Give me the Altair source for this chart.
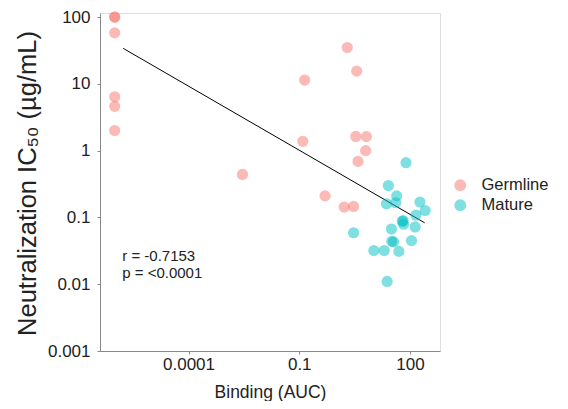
import altair as alt
import pandas as pd

germ_x = [1e-6, 1e-6, 1e-6, 1e-6, 1e-6, 1e-6, 0.0029, 2.0, 3.6, 0.14, 0.125, 3.4, 6.6, 6.3, 3.9, 0.5, 1.65, 2.96]
germ_y = [100, 100, 58, 6.4, 4.6, 2.0, 0.44, 35, 15.5, 11.4, 1.38, 1.63, 1.62, 1.0, 0.69, 0.21, 0.143, 0.146]

mat_x = [78, 26, 43.6, 23, 41, 186, 257, 144, 62, 65, 67, 138, 31.5, 2.96, 32, 36, 110, 10.5, 20, 50, 24]
mat_y = [0.66, 0.30, 0.21, 0.16, 0.166, 0.17, 0.127, 0.108, 0.087, 0.09, 0.079, 0.072, 0.067, 0.059, 0.044, 0.043, 0.045, 0.032, 0.032, 0.031, 0.011]

fit_x = [1.7e-6, 250]
fit_y = [34, 0.083]

ann_text = ["r = -0.7153", "p = <0.0001"]
ann_x = [1.6e-6, 1.6e-6]
ann_y = [0.026, 0.0145]

x_ticks = [0.0001, 0.1, 100]
y_ticks = [0.001, 0.01, 0.1, 1, 10, 100]

pts = pd.DataFrame({
    "x": germ_x + mat_x,
    "y": germ_y + mat_y,
    "group": ["Germline"] * len(germ_x) + ["Mature"] * len(mat_x),
})
fit = pd.DataFrame({"x": fit_x, "y": fit_y})
ann = pd.DataFrame({"x": ann_x, "y": ann_y, "t": ann_text})

xscale = alt.Scale(type="log", domain=[4e-7, 650], nice=False)
yscale = alt.Scale(type="log", domain=[0.001, 115], nice=False)

font = "Liberation Sans"

points = alt.Chart(pts).mark_circle(size=125, opacity=0.5).encode(
    x=alt.X("x:Q", scale=xscale, title="Binding (AUC)",
            axis=alt.Axis(values=x_ticks, format="~g", grid=False, tickSize=3,
                          labelFontSize=17, titleFontSize=17.5, labelPadding=2,
                          titleY=46, titleBaseline="alphabetic",
                          labelFont=font, titleFont=font,
                          domainColor="#888", tickColor="#888",
                          labelColor="#222", titleColor="#222", titleFontWeight="normal")),
    y=alt.Y("y:Q", scale=yscale, title="Neutralization IC₅₀  (µg/mL)",
            axis=alt.Axis(values=y_ticks, format="~g", grid=False, tickSize=3,
                          labelFontSize=17, titleFontSize=25.5, labelPadding=7,
                          labelFont=font, titleFont=font,
                          titleX=-65, titleY=170, titleAngle=-90, titleAlign="center",
                          titleBaseline="alphabetic",
                          domainColor="#888", tickColor="#888",
                          labelColor="#222", titleColor="#222", titleFontWeight="normal")),
    color=alt.Color("group:N",
                    scale=alt.Scale(domain=["Germline", "Mature"], range=["#F8766D", "#00BFC4"]),
                    legend=alt.Legend(title=None, orient="none", legendX=352, legendY=164,
                                      labelFontSize=16.5, labelFont=font, labelColor="#222",
                                      symbolSize=140, symbolOpacity=0.5, symbolType="circle",
                                      symbolStrokeWidth=0,
                                      rowPadding=3, labelOffset=13)),
)

line = alt.Chart(fit).mark_line(color="black", strokeWidth=1).encode(
    x=alt.X("x:Q", scale=xscale), y=alt.Y("y:Q", scale=yscale)
)

text = alt.Chart(ann).mark_text(align="left", baseline="middle", fontSize=15, font=font, color="#222").encode(
    x=alt.X("x:Q", scale=xscale), y=alt.Y("y:Q", scale=yscale), text="t:N"
)

chart = alt.layer(line, points, text).properties(
    width=340, height=338,
    autosize=alt.AutoSizeParams(type="none"),
    padding={"left": 92, "top": 5, "right": 120, "bottom": 50},
).configure_view(stroke="#999", strokeWidth=1).configure(background="white")

chart.save("out.html", embed_options={"renderer": "svg", "actions": False})
